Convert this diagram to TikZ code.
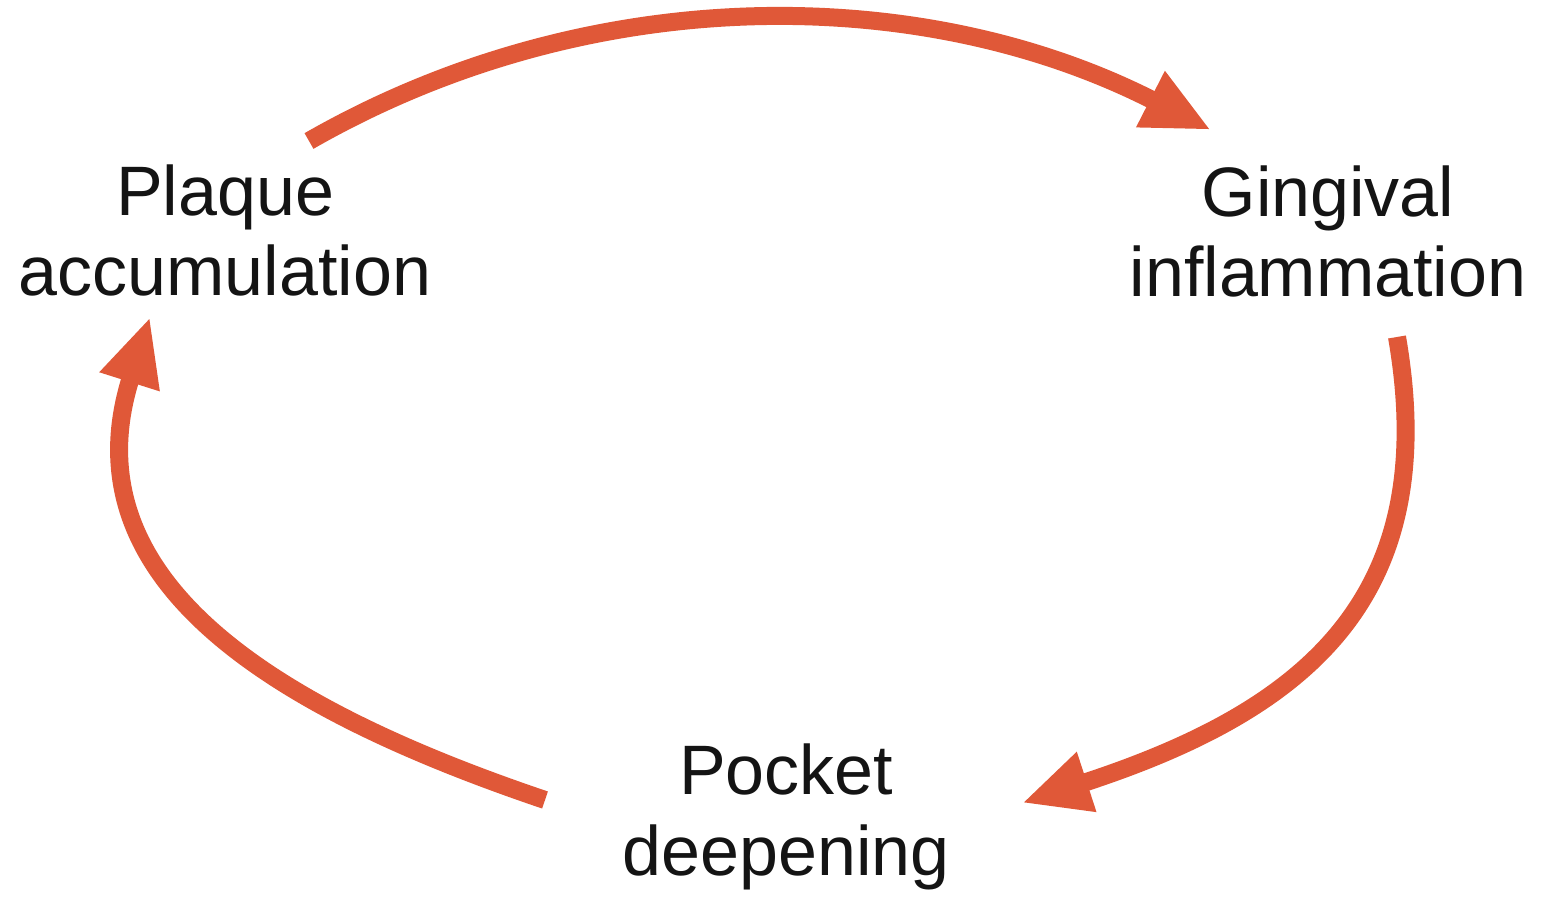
\documentclass[tikz,border=0pt]{standalone}
\usepackage{fontspec}
\setmainfont{Liberation Sans}
\usetikzlibrary{arrows.meta}
\definecolor{arcred}{RGB}{224,88,56}
\definecolor{txt}{RGB}{20,20,20}
\tikzset{
  label/.style={align=center, anchor=base, inner sep=0pt, text=txt,
    font=\fontsize{35}{40}\selectfont},
  cyc/.style={draw=arcred, line width=9pt,
    -{Triangle[length=34pt,width=29pt]}, arcred}
}
\begin{document}
\begin{tikzpicture}[x=0.5pt,y=-0.5pt]
\useasboundingbox (0,0) rectangle (1543,897);
\fill[white] (0,0) rectangle (1543,897);
\node[label] (plaque) at (225,296) {Plaque\\accumulation};
\node[label] (gingival) at (1328,297) {Gingival\\inflammation};
\node[label] (pocket) at (786,875) {Pocket\\deepening};
\coordinate (t0) at (309,141);
\coordinate (t1) at (1211,130);
\coordinate (r0) at (1397,337);
\coordinate (r1) at (1022,803);
\coordinate (l0) at (545,800);
\coordinate (l1) at (150,317);
\draw[cyc] (t0) .. controls (590,-20) and (923,-17) .. (t1);
\draw[cyc] (r0) .. controls (1442,597) and (1307,710) .. (r1);
\draw[cyc] (l0) .. controls (279,710) and (66,583) .. (l1);
\end{tikzpicture}
\end{document}
